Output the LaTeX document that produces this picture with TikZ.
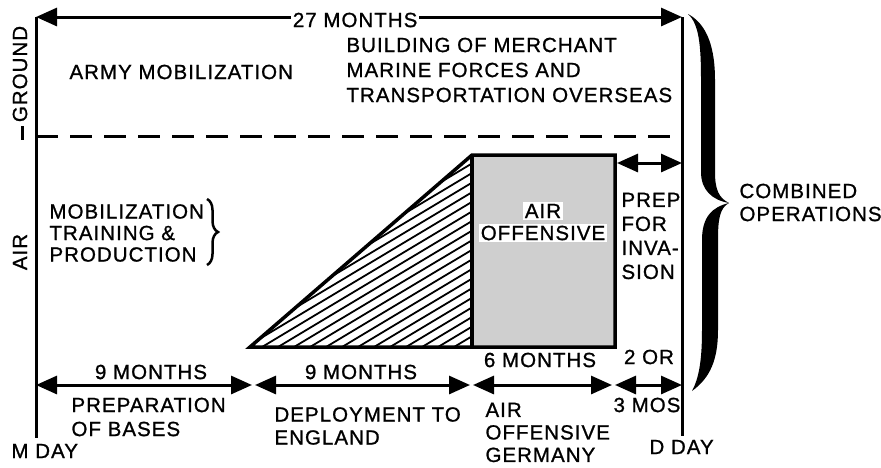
\documentclass[tikz,border=0pt]{standalone}
\usepackage{fontspec}
\setmainfont{Liberation Sans}[LetterSpace=5,FakeBold=1]
\usetikzlibrary{arrows.meta,decorations.pathreplacing}
\begin{document}
\begin{tikzpicture}[x=1pt,y=-1pt,line width=3pt,
  txt/.style={font=\fontsize{20.5}{24}\selectfont,inner sep=0pt,align=left},
  ls/.style={font=\fontsize{20.5}{#1}\selectfont},
  arr/.style={{Triangle[length=21pt,width=18pt]}-{Triangle[length=21pt,width=18pt]},line width=3pt},
  box/.style={line width=3.5pt,line join=miter}]
\useasboundingbox (0,0) rectangle (881,467);
% frame lines
\coordinate (mtop) at (36,17);
\coordinate (mbot) at (36,438);
\coordinate (dtop) at (682,17);
\coordinate (dbot) at (682,436);
\draw (mtop) -- (mbot);
\draw (dtop) -- (dbot);
\draw[arr] (mtop) -- (dtop) node[pos=0.494,fill=white,inner xsep=2pt,inner ysep=1pt,font=\fontsize{20.5}{24}\selectfont,yshift=-3pt] (tm) {27 MONTHS};
% ground/air divider
\coordinate (dl) at (36,136);
\coordinate (dr) at (678,136);
\draw[dash pattern=on 22pt off 12pt] (dl) -- (dr);
\coordinate (tk1) at (22,126);
\coordinate (tk2) at (22,140);
\draw (tk1) -- (tk2);
\node[txt,rotate=90] (ground) at (20,74) {GROUND};
\node[txt,rotate=90] (air) at (20,252) {AIR};
% ground texts
\node[txt,anchor=west] (army) at (68,72) {ARMY MOBILIZATION};
\node[txt,ls=25,anchor=west] (build) at (345,70) {BUILDING OF MERCHANT\\MARINE FORCES AND\\TRANSPORTATION OVERSEAS};
% air texts
\node[txt,ls=21.5,anchor=west] (mob) at (48,233) {MOBILIZATION\\TRAINING \&\\PRODUCTION};
\coordinate (bt) at (207,199);
\coordinate (bb) at (207,265);
\draw[line width=2.5pt,decorate,decoration={brace,amplitude=11pt,aspect=0.5}] (bt) -- (bb);
% hatched triangle
\coordinate (tA) at (250,347);
\coordinate (tB) at (472,155);
\coordinate (tC) at (472,347);
\coordinate (rB) at (615,155);
\coordinate (rC) at (615,347);
\fill[gray!38] (tB) rectangle (rC);
\begin{scope}
\clip (tA) -- (tB) -- (tC) -- cycle;
\foreach \c in {293,302.6,...,500}
  \draw[line width=1.8pt] (240,\c) -- (480,\c-144);
\end{scope}
\draw[box] (tA) -- (tB) -- (rB) -- (rC) -- cycle;
\draw[box] (tB) -- (tC);
\node[txt,fill=white,inner sep=2pt] (ao1) at (543,211) {AIR};
\node[txt,fill=white,inner sep=2pt] (ao2) at (543,233) {OFFENSIVE};
% prep for invasion
\coordinate (p1) at (617,163);
\coordinate (p2) at (682,163);
\draw[arr] (p1) -- (p2);
\node[txt,ls=24,anchor=west] (prep) at (620,236) {PREP\\FOR\\INVA-\\SION};
% big brace
\fill (688,14) .. controls (699,24) and (701,45) .. (701,80) -- (701,172)
  .. controls (701,190) and (712,200) .. (729,203)
  .. controls (712,207) and (702,217) .. (702,240) -- (702,330)
  .. controls (702,360) and (699,378) .. (692,391)
  .. controls (710,378) and (718,360) .. (718,330) -- (718,240)
  .. controls (718,218) and (720,208) .. (729,203)
  .. controls (719,198) and (715,190) .. (715,172) -- (715,80)
  .. controls (715,40) and (703,22) .. (688,14) -- cycle;
\node[txt,ls=23,anchor=west] (comb) at (738,202.5) {COMBINED\\OPERATIONS};
% bottom arrows
\coordinate (b0) at (36,385);
\coordinate (b1) at (252,385);
\coordinate (b2) at (255,385);
\coordinate (b3) at (470,385);
\coordinate (b4) at (473,385);
\coordinate (b5) at (612,385);
\coordinate (b6) at (615,385);
\coordinate (b7) at (682,385);
\draw[arr] (b0) -- (b1);
\draw[arr] (b2) -- (b3);
\draw[arr] (b4) -- (b5);
\draw[arr] (b6) -- (b7);
\node[txt] (n1) at (151,372) {9 MONTHS};
\node[txt] (n2) at (361,372) {9 MONTHS};
\node[txt] (n3) at (540,360) {6 MONTHS};
\node[txt] (n4) at (649,357) {2 OR};
\node[txt] (n5) at (647,405) {3 MOS};
\node[txt,ls=24,anchor=west] (l1) at (70,417) {PREPARATION\\OF BASES};
\node[txt,ls=23,anchor=west] (l2) at (273,426) {DEPLOYMENT TO\\ENGLAND};
\node[txt,ls=22.5,anchor=west] (l3) at (484,432.5) {AIR\\OFFENSIVE\\GERMANY};
\node[txt,anchor=west] (mday) at (10,451) {M DAY};
\node[txt,anchor=west] (dday) at (648,447) {D DAY};
\end{tikzpicture}
\end{document}
